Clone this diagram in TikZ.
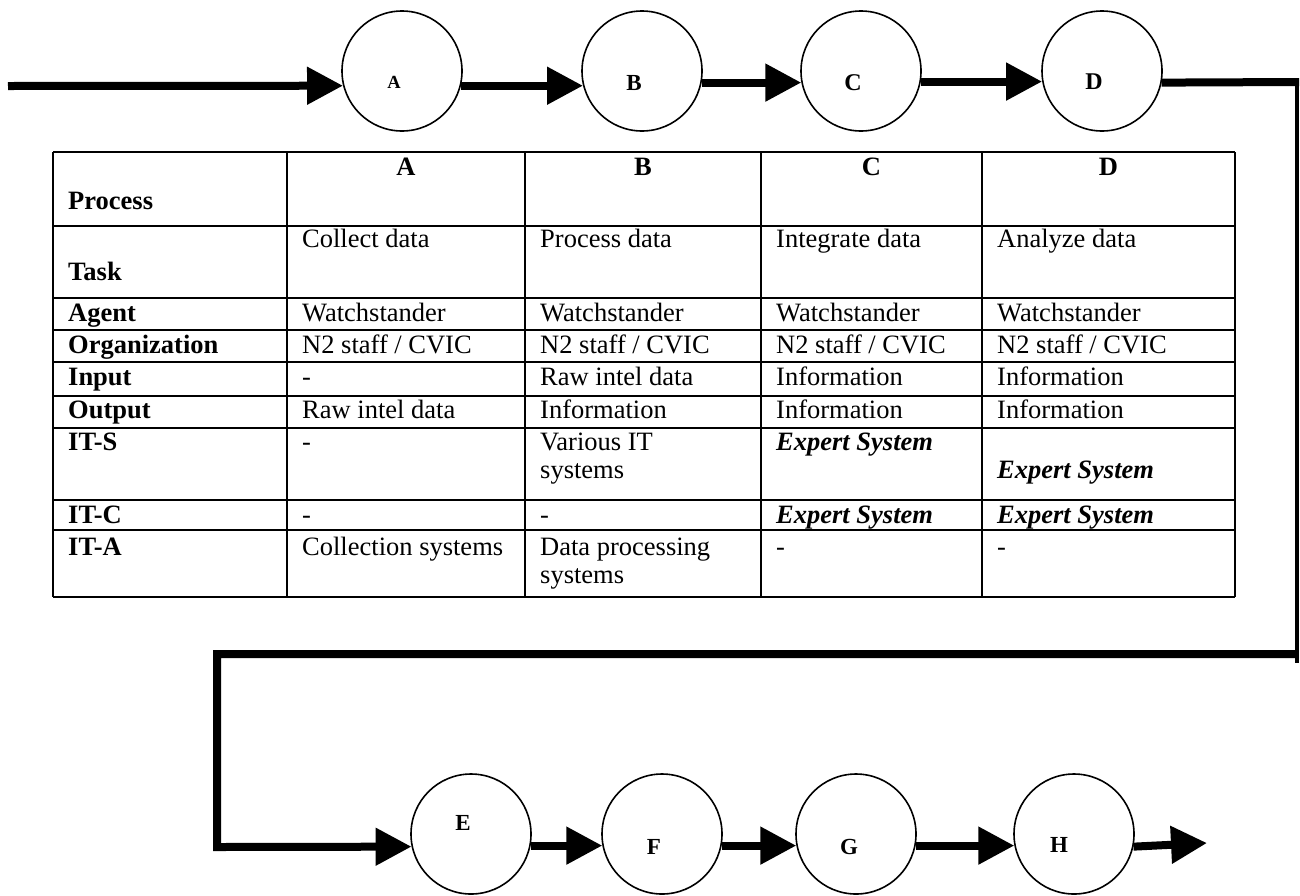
\documentclass[tikz,border=0pt]{standalone}
\usepackage{fontspec}
\setmainfont{Liberation Serif}
\usetikzlibrary{arrows.meta}
\begin{document}
\begin{tikzpicture}[x=1pt,y=-1pt,
  circ/.style={circle, draw, line width=1.6pt, minimum size=120pt, inner sep=0pt},
  flow/.style={line width=8pt, -{Triangle[length=36pt,width=36pt]}},
  bar/.style={line width=8pt},
  thinbar/.style={line width=4pt},
  grid/.style={line width=1.8pt},
  cell/.style={anchor=base west, inner sep=0pt, font=\fontsize{26.5}{29}\selectfont},
  hcell/.style={anchor=base west, inner sep=0pt, font=\fontsize{26.5}{29}\selectfont\bfseries},
  ccell/.style={anchor=base, inner sep=0pt, font=\fontsize{26.5}{29}\selectfont\bfseries},
  xcell/.style={anchor=base west, inner sep=0pt, font=\fontsize{26.5}{29}\selectfont\bfseries\itshape},
  lab/.style={anchor=base, inner sep=0pt, font=\fontsize{24}{26}\selectfont\bfseries}
]
\useasboundingbox (0,0) rectangle (1300,895);
\fill[white] (0,0) rectangle (1300,895);

% ---------- top row circles ----------
\node[circ] (A) at (402,71) {};
\node[circ] (B) at (642,71) {};
\node[circ] (C) at (861,71) {};
\node[circ] (D) at (1102,71) {};
\node[lab, font=\fontsize{18.5}{20}\selectfont\bfseries] (Alab) at (394,88) {A};
\node[lab, font=\fontsize{23}{25}\selectfont\bfseries] (Blab) at (634,90) {B};
\node[lab] (Clab) at (853,90) {C};
\node[lab] (Dlab) at (1094,89) {D};

% ---------- bottom row circles ----------
\node[circ] (E) at (471,834) {};
\node[circ] (F) at (662,834) {};
\node[circ] (G) at (856,834) {};
\node[circ] (H) at (1074,834) {};
\node[lab, font=\fontsize{23}{25}\selectfont\bfseries] (Elab) at (463,830) {E};
\node[lab, font=\fontsize{23}{25}\selectfont\bfseries] (Flab) at (654,854) {F};
\node[lab, font=\fontsize{23}{25}\selectfont\bfseries] (Glab) at (849,854) {G};
\node[lab, font=\fontsize{23}{25}\selectfont\bfseries] (Hlab) at (1059,852) {H};

% ---------- connectors ----------
\coordinate (in) at (8,86);
\coordinate (rtop) at (1299,82);
\coordinate (rv1) at (1297,78);
\coordinate (rv2) at (1297,663);
\coordinate (rh) at (1297,654);
\coordinate (lt) at (217,654);
\coordinate (lb) at (217,847);
\coordinate (out) at (1207,843);

\draw[flow] (in) -- (A.194);
\draw[flow] (A.-14) -- (B.194);
\draw[flow] (B.-11) -- (C.191);
\draw[flow] (C.-10) -- (D.190);
\draw[bar] (D.-11) -- (rtop);
\draw[thinbar] (rv1) -- (rv2);
\draw[flow] (rh) -- (lt) -- (lb) -- (E.192.5);
\draw[flow] (E.-11.5) -- (F.191.5);
\draw[flow] (F.-11.5) -- (G.191.5);
\draw[flow] (G.-11.5) -- (H.191.5);
\draw[flow] (H.-12.5) -- (out);

% ---------- table grid ----------
\foreach \y in {152,226,298,330,362,396,428,500,530,597}
  \draw[grid] (53,\y) -- (1235,\y);
\foreach \x in {53,287,525,761,982,1235}
  \draw[grid] (\x,152) -- (\x,597);

% header row
\node[hcell] (hProc) at (68,209) {Process};
\node[ccell] (hA) at (406,175) {A};
\node[ccell] (hB) at (643,175) {B};
\node[ccell] (hC) at (871.5,175) {C};
\node[ccell] (hD) at (1108.5,175) {D};

% task row
\node[hcell] (lTask) at (68,280) {Task};
\node[cell] (tA) at (302,247) {Collect data};
\node[cell] (tB) at (540,247) {Process data};
\node[cell] (tC) at (776,247) {Integrate data};
\node[cell] (tD) at (997,247) {Analyze data};

% agent row
\node[hcell] (lAgent) at (68,321) {Agent};
\node[cell] (aA) at (302,321) {Watchstander};
\node[cell] (aB) at (540,321) {Watchstander};
\node[cell] (aC) at (776,321) {Watchstander};
\node[cell] (aD) at (997,321) {Watchstander};

% organization row
\node[hcell] (lOrg) at (68,353) {Organization};
\node[cell] (oA) at (302,353) {N2 staff / CVIC};
\node[cell] (oB) at (540,353) {N2 staff / CVIC};
\node[cell] (oC) at (776,353) {N2 staff / CVIC};
\node[cell] (oD) at (997,353) {N2 staff / CVIC};

% input row
\node[hcell] (lIn) at (68,385) {Input};
\node[cell] (iA) at (302,385) {-};
\node[cell] (iB) at (540,385) {Raw intel data};
\node[cell] (iC) at (776,385) {Information};
\node[cell] (iD) at (997,385) {Information};

% output row
\node[hcell] (lOut) at (68,418) {Output};
\node[cell] (uA) at (302,418) {Raw intel data};
\node[cell] (uB) at (540,418) {Information};
\node[cell] (uC) at (776,418) {Information};
\node[cell] (uD) at (997,418) {Information};

% IT-S row
\node[hcell] (lITS) at (68,450) {IT-S};
\node[cell] (sA) at (302,450) {-};
\node[cell] (sB1) at (540,450) {Various IT};
\node[cell] (sB2) at (540,478) {systems};
\node[xcell] (sC) at (776,450) {Expert System};
\node[xcell] (sD) at (997,478) {Expert System};

% IT-C row
\node[hcell] (lITC) at (68,523) {IT-C};
\node[cell] (cA) at (302,523) {-};
\node[cell] (cB) at (540,523) {-};
\node[xcell] (cC) at (776,523) {Expert System};
\node[xcell] (cD) at (997,523) {Expert System};

% IT-A row
\node[hcell] (lITA) at (68,555) {IT-A};
\node[cell] (xA) at (302,555) {Collection systems};
\node[cell] (xB1) at (540,555) {Data processing};
\node[cell] (xB2) at (540,583) {systems};
\node[cell] (xC) at (776,555) {-};
\node[cell] (xD) at (997,555) {-};
\end{tikzpicture}
\end{document}
